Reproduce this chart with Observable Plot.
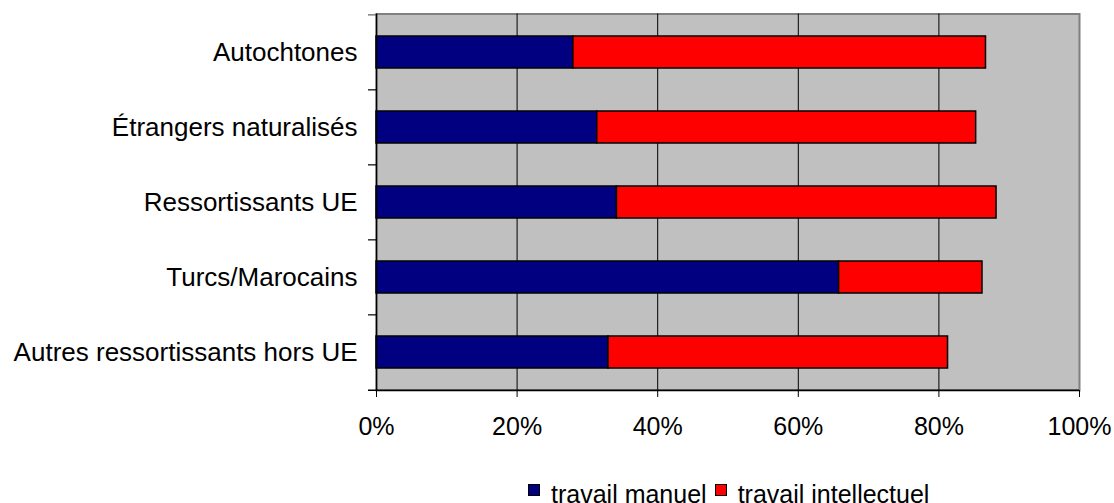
<!DOCTYPE html>
<html>
<head>
<meta charset="utf-8">
<script src="https://cdn.jsdelivr.net/npm/d3@7"></script>
<script src="https://cdn.jsdelivr.net/npm/@observablehq/plot@0.6"></script>
<style>
  html, body { margin: 0; padding: 0; background: #fff; }
  #wrap { position: relative; width: 1114px; height: 503px; overflow: hidden; font-family: "Liberation Sans", Arial, sans-serif; }
  #legend { position: absolute; top: 480px; left: 528px; font-size: 25px; line-height: 29px; color: #000; white-space: nowrap; display: flex; align-items: flex-start; }
  #legend .sw { display: inline-block; width: 12px; height: 12px; border: 1px solid #000; box-sizing: border-box; margin-right: 11px; margin-top: 4px; }
  #legend .item { display: inline-flex; align-items: flex-start; margin-right: 8px; }
</style>
</head>
<body>
<div id="wrap"><div id="chart"></div><div id="legend"></div></div>
<script>
const categories = ["Autochtones", "Étrangers naturalisés", "Ressortissants UE", "Turcs/Marocains", "Autres ressortissants hors UE"];
const seriesNames = ["travail manuel", "travail intellectuel"];
const seriesColors = ["#000080", "#ff0000"];
const manuel = [28.0, 31.4, 34.2, 65.8, 33.0];
const intellectuel = [58.7, 53.9, 54.0, 20.4, 48.3];
const xTicks = [0, 20, 40, 60, 80, 100];

const rows = [];
categories.forEach((c, i) => {
  rows.push({cat: c, type: seriesNames[0], value: manuel[i]});
  rows.push({cat: c, type: seriesNames[1], value: intellectuel[i]});
});

const W = 1114, H = 460;
const mTop = 13.5, mBottom = H - 390, mLeft = 376, mRight = W - 1079;
const step = (H - mTop - mBottom) / categories.length;
const tickLen = 8 / (W - mLeft - mRight) * 100;

const chart = Plot.plot({
  width: W,
  height: H,
  marginTop: mTop,
  marginBottom: mBottom,
  marginLeft: mLeft,
  marginRight: mRight,
  style: {fontFamily: "'Liberation Sans', Arial, sans-serif", fontSize: "25px", color: "#000", background: "#fff"},
  x: {domain: [0, 100], label: null},
  y: {domain: categories, paddingInner: 0.575, paddingOuter: 0.2875, label: null},
  color: {domain: seriesNames, range: seriesColors},
  marks: [
    Plot.frame({fill: "#c0c0c0", stroke: "#808080", strokeWidth: 2}),
    Plot.ruleX(xTicks.filter(d => d > 0 && d < 100), {stroke: "#000", strokeWidth: 1}),
    Plot.barX(rows, Plot.stackX({x: "value", y: "cat", fill: "type", stroke: "#000", strokeWidth: 1.5, order: seriesNames})),
    Plot.ruleY(categories.slice(1), {y: d => d, dy: -step / 2, x1: -tickLen, x2: 0, stroke: "#000", strokeWidth: 1.2}),
    Plot.ruleY([categories[0]], {y: d => d, dy: -step / 2, x1: -tickLen, x2: 0, stroke: "#808080", strokeWidth: 1.5}),
    Plot.ruleY([categories[categories.length - 1]], {y: d => d, dy: step / 2, x1: -tickLen, x2: 100, stroke: "#000", strokeWidth: 1.5}),
    Plot.ruleX([0], {stroke: "#000", strokeWidth: 1.5}),
    Plot.axisX({ticks: xTicks, tickFormat: d => d + "%", tickSize: 7, tickPadding: 20, fontSize: 25, stroke: "#000", label: null}),
    Plot.axisY({tickSize: 0, tickPadding: 19, fontSize: 26, label: null})
  ]
});
document.getElementById("chart").appendChild(chart);

const legend = document.getElementById("legend");
seriesNames.forEach((name, i) => {
  const item = document.createElement("span");
  item.className = "item";
  const sw = document.createElement("span");
  sw.className = "sw";
  sw.style.background = seriesColors[i];
  item.appendChild(sw);
  item.appendChild(document.createTextNode(name));
  legend.appendChild(item);
});
</script>
</body>
</html>
